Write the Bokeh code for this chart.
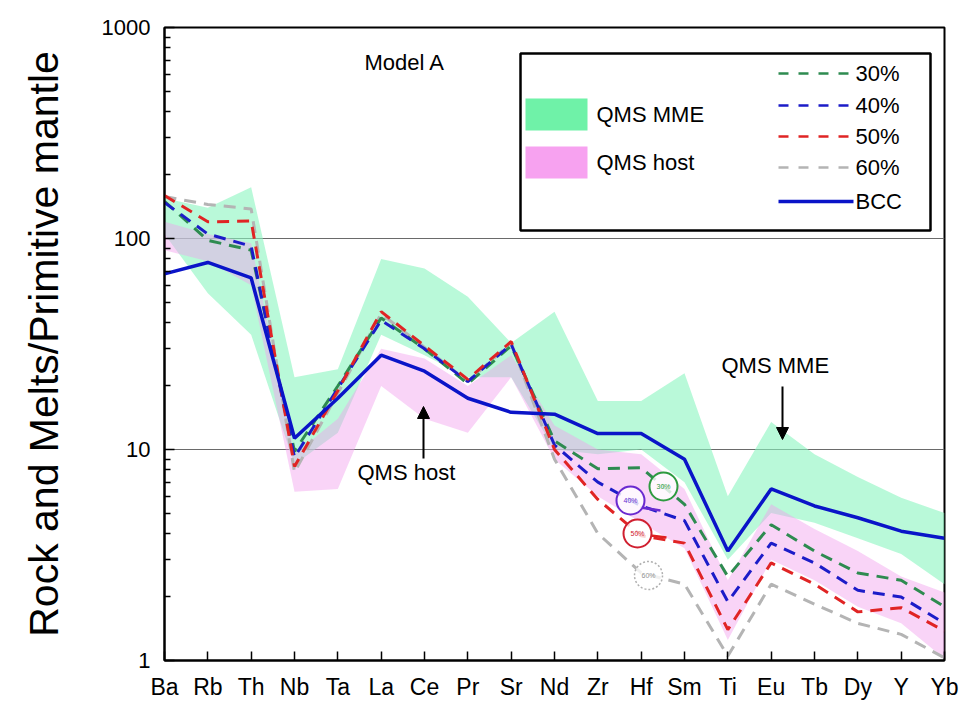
from bokeh.plotting import figure
from bokeh.models import (FixedTicker, NumeralTickFormatter, Label, Arrow, NormalHead,
                          BoxAnnotation, Range1d)
from bokeh.core.properties import value
from bokeh.embed import file_html
from bokeh.resources import INLINE

# ---------------- data ----------------
elements = ["Ba", "Rb", "Th", "Nb", "Ta", "La", "Ce", "Pr", "Sr", "Nd",
            "Zr", "Hf", "Sm", "Ti", "Eu", "Tb", "Dy", "Y", "Yb"]

bcc = [68, 77, 65, 11.3, 17.5, 28, 23.5, 17.5, 15, 14.7, 11.9, 11.9, 9.0, 3.3, 6.5, 5.4, 4.75, 4.1, 3.8]
melt30 = [150, 98, 88, 9.8, 20, 42, 30, 20.5, 31, 11, 8.1, 8.2, 5.5, 2.5, 4.4, 3.3, 2.6, 2.4, 1.8]
melt40 = [148, 105, 92, 9.2, 19.5, 41, 30, 21, 31.5, 10.5, 7.0, 5.4, 4.6, 1.9, 3.6, 2.9, 2.15, 2.0, 1.5]
melt50 = [160, 120, 121, 8.3, 19, 45, 31, 21.5, 32.5, 10, 5.8, 3.9, 3.6, 1.4, 2.9, 2.3, 1.7, 1.78, 1.38]
melt60 = [158, 145, 138, 7.8, 18.5, 44, 30.5, 21, 32, 9, 4.0, 2.6, 2.3, 1.05, 2.3, 1.85, 1.5, 1.33, 1.03]

mme_hi = [155, 140, 175, 22, 24, 80, 72, 53, 32, 45, 17, 17, 23, 6.0, 13.5, 9.5, 7.4, 5.9, 5.0]
mme_lo = [105, 55, 35, 8.5, 12, 35, 28, 22, 22, 10, 9.5, 10, 7.0, 3.0, 5.0, 4.5, 3.8, 3.2, 2.3]
host_hi = [120, 105, 95, 9.5, 14, 30, 27, 20, 28, 13, 10, 9.5, 6.5, 2.4, 5.5, 4.2, 3.3, 2.5, 2.1]
host_lo = [88, 78, 60, 6.3, 6.5, 20, 14, 12, 22, 9, 6.0, 4.5, 3.4, 1.25, 3.0, 2.4, 1.8, 1.5, 1.02]

y_ticks = [1, 10, 100, 1000]
xs = list(range(len(elements)))

FONT = "Liberation Sans"

# --------- helpers to place annotations from pixel positions of the reference ---------
X0, X1, YB, YT = 164.0, 944.0, 660.0, 27.0
DX = (X1 - X0) / 18.0
DEC = (YB - YT) / 3.0


def ax(px):
    return (px - X0) / DX


def ay(py):
    return 10 ** ((YB - py) / DEC)


p = figure(width=967, height=708, y_axis_type="log",
           x_range=Range1d(0, 18), y_range=Range1d(1, 1000),
           output_backend="svg", toolbar_location=None,
           min_border_left=164, min_border_right=23, min_border_top=27, min_border_bottom=48)

p.outline_line_color = "black"
p.outline_line_width = 2
p.background_fill_color = "white"
p.border_fill_color = "white"

# grid
p.xgrid.visible = False
p.ygrid.ticker = FixedTicker(ticks=[10, 100])
p.ygrid.grid_line_color = "#6a6a6a"
p.ygrid.grid_line_width = 1.2

# legend frame (under the glyphs so that the sample lines show)
p.add_layout(BoxAnnotation(left=ax(520), right=ax(930), top=ay(53), bottom=ay(230),
                           fill_color="white", fill_alpha=1, line_color="black",
                           line_alpha=1, line_width=2.5, level="underlay"))

# bands
p.varea(x=xs, y1=mme_lo, y2=mme_hi, fill_color="#8af5bf", fill_alpha=0.6)
p.varea(x=xs, y1=host_lo, y2=host_hi, fill_color="#f2a0ee", fill_alpha=0.45)

# model melts
DASH = "12 8"
p.line(xs, melt60, line_color="#b4b4b4", line_width=3, line_dash=DASH)
p.line(xs, melt30, line_color="#2e8b50", line_width=3, line_dash=DASH)
p.line(xs, melt40, line_color="#1c1cc8", line_width=3, line_dash=DASH)
p.line(xs, melt50, line_color="#e02424", line_width=3, line_dash=DASH)
p.line(xs, bcc, line_color="#0a14c8", line_width=3.5)

# axes
p.xaxis.ticker = FixedTicker(ticks=xs, minor_ticks=[])
p.xaxis.major_label_overrides = {i: e for i, e in enumerate(elements)}
p.xaxis.major_label_text_font = FONT
p.xaxis.major_label_text_font_size = "23px"
p.xaxis.major_label_text_color = "black"
p.xaxis.major_label_standoff = 13
p.xaxis.major_tick_in = 9
p.xaxis.major_tick_out = 0
p.xaxis.axis_line_width = 2
p.xaxis.major_tick_line_width = 1.5

minor = [m * d for d in (1, 10, 100) for m in range(2, 10)]
p.yaxis.ticker = FixedTicker(ticks=y_ticks, minor_ticks=minor)
p.yaxis.formatter = NumeralTickFormatter(format="0")
p.yaxis.major_label_text_font = FONT
p.yaxis.major_label_text_font_size = "22px"
p.yaxis.major_label_text_color = "black"
p.yaxis.major_label_standoff = 14
p.yaxis.major_tick_in = 10
p.yaxis.major_tick_out = 0
p.yaxis.minor_tick_in = 6
p.yaxis.minor_tick_out = 0
p.yaxis.axis_line_width = 2
p.yaxis.major_tick_line_width = 1.5
p.yaxis.minor_tick_line_width = 1.5
p.yaxis.axis_label = "Rock and Melts/Primitive mantle"
p.yaxis.axis_label_text_font = FONT
p.yaxis.axis_label_text_font_size = "41px"
p.yaxis.axis_label_text_font_style = "normal"
p.yaxis.axis_label_text_color = "black"
p.yaxis.axis_label_standoff = 32

# ---------------- annotations ----------------
p.add_layout(Label(x=ax(364), y=ay(62), text="Model A", text_font=FONT,
                   text_font_size="22px", text_baseline="middle", text_color="black"))
p.add_layout(Label(x=ax(357), y=ay(472), text="QMS host", text_font=FONT,
                   text_font_size="22px", text_baseline="middle", text_color="black"))
p.add_layout(Label(x=ax(721), y=ay(365), text="QMS MME", text_font=FONT,
                   text_font_size="22px", text_baseline="middle", text_color="black"))
p.add_layout(Arrow(end=NormalHead(size=12, fill_color="black", line_color="black"),
                   x_start=ax(423), y_start=ay(458), x_end=ax(423), y_end=ay(406),
                   line_width=2, line_color="black"))
p.add_layout(Arrow(end=NormalHead(size=12, fill_color="black", line_color="black"),
                   x_start=ax(782), y_start=ay(386), x_end=ax(782), y_end=ay(439),
                   line_width=2, line_color="black"))

# circled percentage tags
tag_x = [ax(663), ax(630), ax(637)]
tag_y = [ay(486), ay(500), ay(533)]
tag_c = ["#2e9a40", "#6a2ad0", "#d02030"]
p.segment(x0=[ax(640), ax(650)], y0=[ay(507), ay(535)], x1=[ax(660), ax(666)], y1=[ay(510), ay(537)],
          line_color=["#6a2ad0", "#e02020"], line_width=2.5)
p.scatter(x=tag_x, y=tag_y, marker="circle", size=28, fill_color="white", fill_alpha=0.8,
          line_color=tag_c, line_width=2)
p.scatter(x=[ax(648)], y=[ay(575)], marker="circle", size=28, fill_color="white", fill_alpha=0.8,
          line_color="#b0b0b0", line_width=1.5, line_dash="2 2")
p.text(x=tag_x + [ax(648)], y=tag_y + [ay(575)], text=["30%", "40%", "50%", "60%"],
       text_font=value(FONT), text_font_size="7px", text_align="center", text_baseline="middle",
       text_color=tag_c + ["#909090"])

# ---------------- legend (drawn by hand) ----------------
p.add_layout(BoxAnnotation(left=ax(525), right=ax(587), top=ay(98), bottom=ay(130),
                           fill_color="#6ff2a8", fill_alpha=1, line_color=None))
p.add_layout(BoxAnnotation(left=ax(525), right=ax(587), top=ay(146), bottom=ay(178),
                           fill_color="#f7a2f0", fill_alpha=1, line_color=None))
p.add_layout(Label(x=ax(596), y=ay(114), text="QMS MME", text_font=FONT,
                   text_font_size="22px", text_baseline="middle", text_color="black"))
p.add_layout(Label(x=ax(596), y=ay(162), text="QMS host", text_font=FONT,
                   text_font_size="22px", text_baseline="middle", text_color="black"))

leg_rows = [73, 105, 136, 167, 201]
leg_names = ["30%", "40%", "50%", "60%", "BCC"]
leg_cols = ["#2e8b50", "#1c1cc8", "#e02424", "#b4b4b4", "#0a14c8"]
for r, nm, c in zip(leg_rows, leg_names, leg_cols):
    if nm == "BCC":
        p.line([ax(778), ax(853)], [ay(r), ay(r)], line_color=c, line_width=3.5)
    else:
        p.line([ax(778), ax(856)], [ay(r), ay(r)], line_color=c, line_width=2.5, line_dash="10 10")
    p.add_layout(Label(x=ax(855), y=ay(r), text=nm, text_font=FONT,
                       text_font_size="22px", text_baseline="middle", text_color="black"))

open("out.html", "w").write(file_html(p, INLINE))
